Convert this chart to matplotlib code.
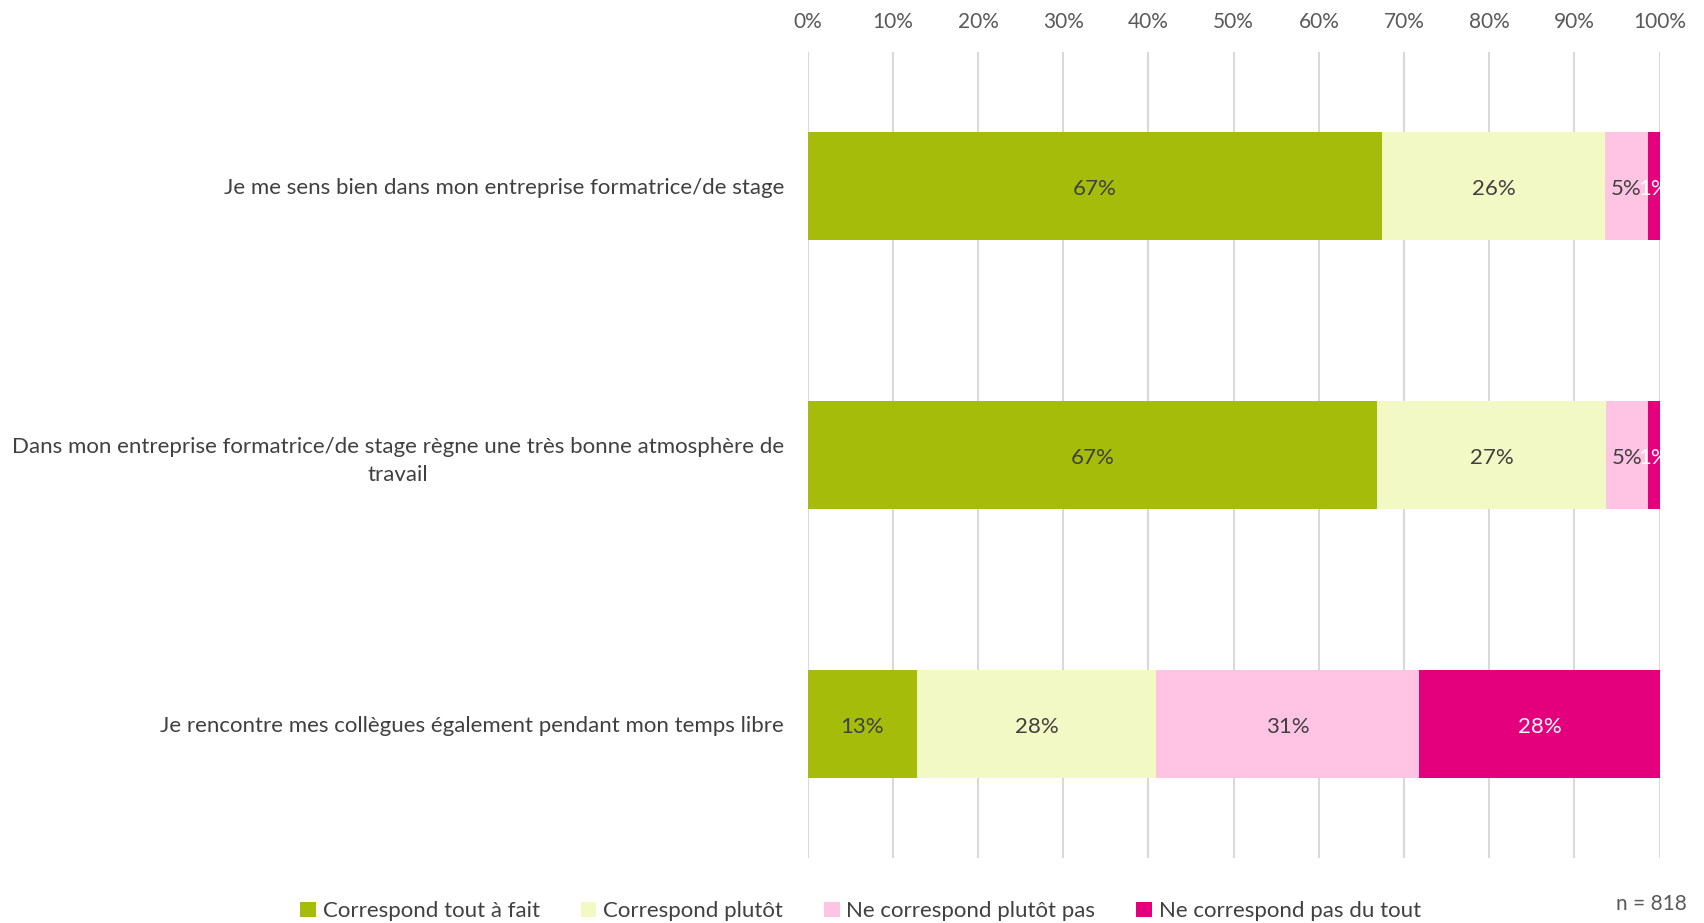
import numpy as np
import matplotlib.pyplot as plt
from matplotlib.ticker import PercentFormatter

plt.rcParams['font.family'] = ['Lato', 'DejaVu Sans']

# Data (share of answers, %)
categories = [
    "Je me sens bien dans mon entreprise formatrice/de stage",
    "Dans mon entreprise formatrice/de stage règne une très bonne atmosphère de\ntravail",
    "Je rencontre mes collègues également pendant mon temps libre",
]
series_names = ["Correspond tout à fait", "Correspond plutôt",
                "Ne correspond plutôt pas", "Ne correspond pas du tout"]
tout_a_fait = [67.4, 66.8, 12.8]
plutot = [26.2, 26.9, 28.1]
plutot_pas = [5.0, 4.9, 30.9]
pas_du_tout = [1.4, 1.4, 28.2]
n_label = "n = 818"

colors = ['#A5BD0A', '#F2F9C4', '#FFC4E4', '#E4007D']
text_colors = ['#404040', '#404040', '#404040', 'white']

fig = plt.figure(figsize=(17.04, 9.23), dpi=100)
ax = fig.add_axes([0.474, 0.070, 0.500, 0.874])

y = np.arange(len(categories))
left = np.zeros(len(categories))
for vals, name, col, tcol in zip([tout_a_fait, plutot, plutot_pas, pas_du_tout],
                                 series_names, colors, text_colors):
    vals = np.array(vals)
    ax.barh(y, vals, left=left, height=0.4, color=col, label=name, zorder=2)
    for yi, v, l in zip(y, vals, left):
        ax.text(l + v / 2, yi + 0.01, f"{int(round(v))}%", ha='center', va='center',
                fontsize=16, color=tcol, zorder=3)
    left += vals

ax.set_xlim(0, 100)
ax.set_ylim(2.5, -0.5)
ax.set_xticks(np.arange(0, 101, 10))
ax.xaxis.set_major_formatter(PercentFormatter(decimals=0))
ax.xaxis.tick_top()
ax.set_yticks(y)
ax.set_yticklabels(categories, multialignment='center', linespacing=1.5)
ax.tick_params(axis='x', length=0, labelsize=15, labelcolor='#595959', pad=14)
ax.tick_params(axis='y', length=0, labelsize=16, labelcolor='#404040', pad=17)
ax.grid(axis='x', color='#D9D9D9', linewidth=1.5, zorder=0)
for s in ax.spines.values():
    s.set_visible(False)

fig.legend(loc='lower center', bbox_to_anchor=(0.505, -0.02), ncol=4, frameon=False,
           fontsize=16, labelcolor='#404040', handlelength=0.7, handleheight=0.7,
           handletextpad=0.3, columnspacing=1.85)
fig.text(0.99, 0.01, n_label, ha='right', va='bottom', fontsize=15, color='#595959')

fig.savefig('out.png', dpi=100)
